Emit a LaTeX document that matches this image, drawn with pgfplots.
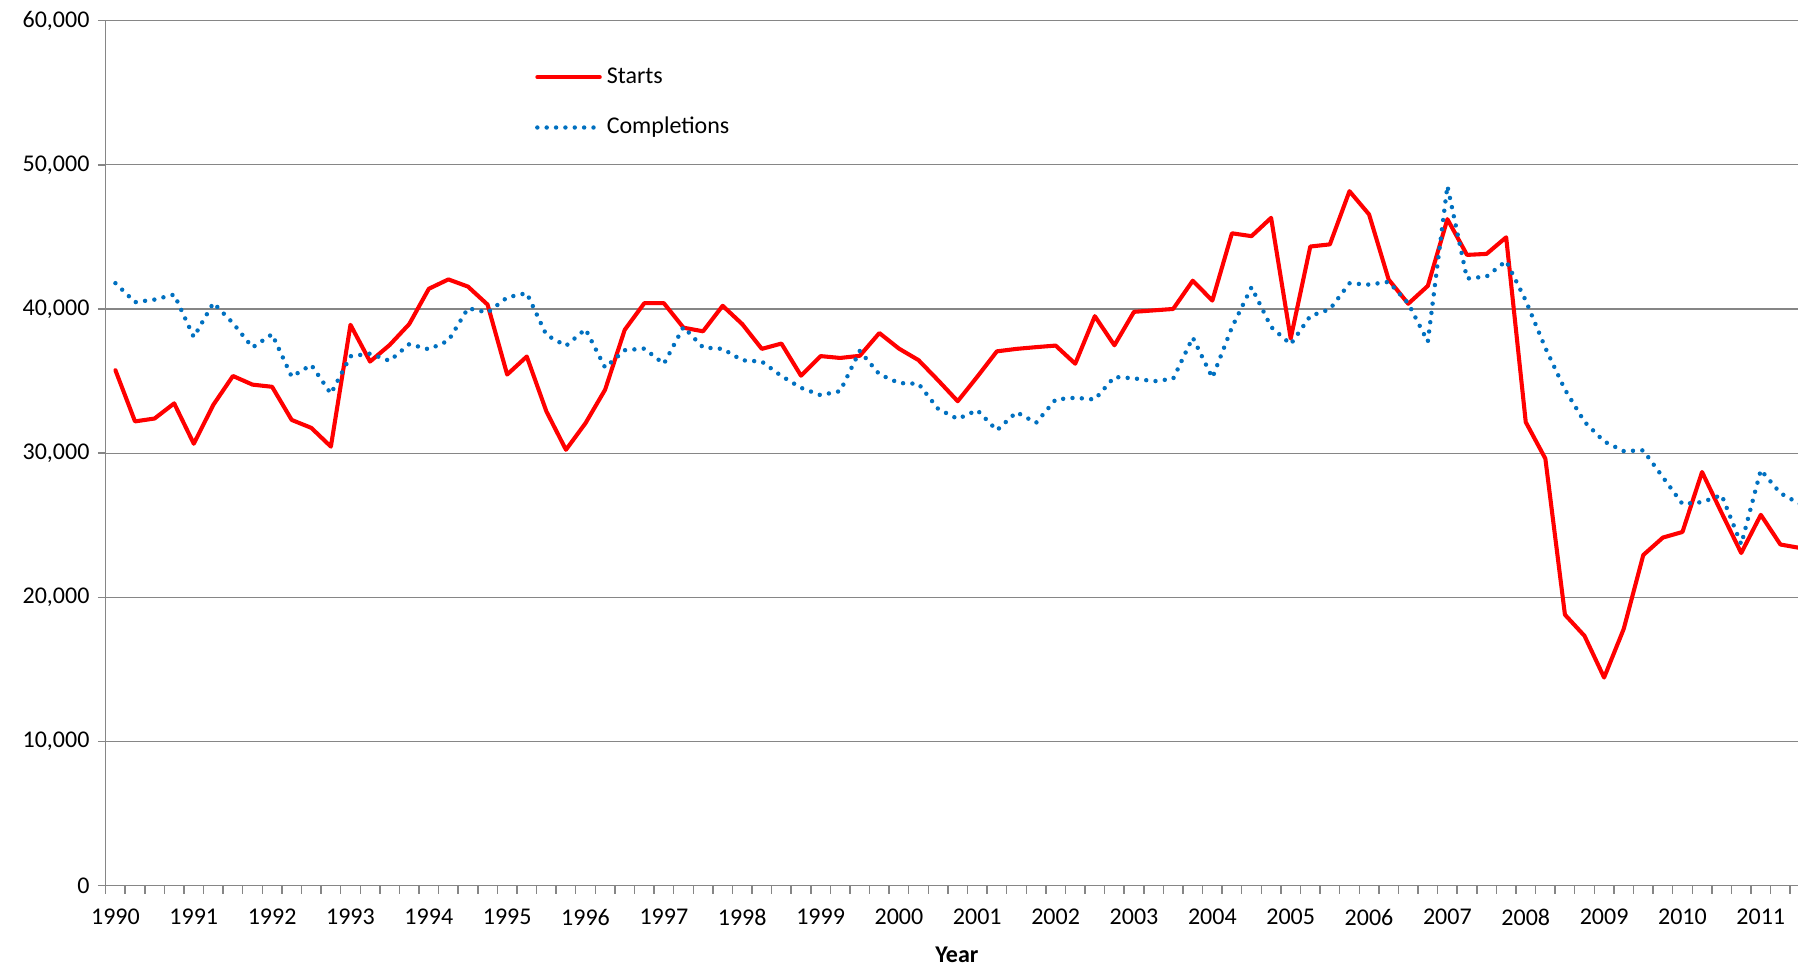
\documentclass[border=0pt]{standalone}
\usepackage{pgfplots}
\pgfplotsset{compat=1.18}
\usepackage{pgfplotstable}
\usepackage{fontspec}
\setmainfont{Carlito}
\definecolor{gridgray}{RGB}{134,134,134}
\definecolor{startred}{RGB}{255,0,0}
\definecolor{compblue}{RGB}{0,112,192}

\pgfplotstableread{
i starts completions
0 35750 41790
1 32200 40470
2 32400 40650
3 33450 41000
4 30650 38050
5 33350 40420
6 35350 39020
7 34750 37330
8 34600 38250
9 32300 35300
10 31750 36120
11 30450 34120
12 38900 36720
13 36350 36900
14 37500 36400
15 38950 37560
16 41400 37200
17 42050 37800
18 41550 40050
19 40300 39750
20 35450 40800
21 36700 41100
22 32900 38200
23 30230 37440
24 32080 38600
25 34400 35930
26 38550 37140
27 40400 37250
28 40400 36190
29 38700 38750
30 38450 37330
31 40220 37230
32 38950 36440
33 37230 36350
34 37600 35350
35 35370 34530
36 36730 34020
37 36600 34300
38 36750 37090
39 38330 35470
40 37250 34860
41 36450 34810
42 35050 33070
43 33600 32370
44 35300 32980
45 37060 31580
46 37230 32840
47 37350 32100
48 37460 33720
49 36200 33840
50 39500 33720
51 37480 35280
52 39800 35190
53 39900 34980
54 40000 35160
55 41960 38020
56 40580 35230
57 45250 38720
58 45050 41510
59 46320 38750
60 37950 37550
61 44330 39510
62 44480 39980
63 48170 41780
64 46560 41690
65 42040 41880
66 40360 40390
67 41600 37730
68 46230 48540
69 43750 42110
70 43820 42250
71 44970 43330
72 32150 40580
73 29620 37300
74 18790 34410
75 17320 32170
76 14430 30810
77 17800 30140
78 22930 30190
79 24140 28330
80 24530 26470
81 28690 26600
82 25850 27090
83 23070 23670
84 25720 28830
85 23660 27220
86 23420 26470
}\datatable

\begin{document}
\begin{tikzpicture}
\begin{axis}[
  scale only axis,
  width=705pt, height=360.3pt,
  xmin=-0.5, xmax=85.9,
  ymin=0, ymax=60000,
  axis x line=bottom, axis y line=left,
  axis line style={draw=gridgray, line width=0.6pt, -},
  ytick={0,10000,...,60000},
  ymajorgrids,
  grid style={draw=gridgray, line width=0.5pt},
  scaled y ticks=false,
  /pgf/number format/.cd, 1000 sep={,}, assume math mode=true,
  /pgfplots/.cd,
  xtick={0,4,...,84},
  xticklabels={1990,1991,1992,1993,1994,1995,1996,1997,1998,1999,2000,2001,2002,2003,2004,2005,2006,2007,2008,2009,2010,2011},
  minor xtick={-0.5,0.5,...,85.5},
  tick align=outside,
  major tick length=3.2pt,
  minor tick length=3.5pt,
  major x tick style={draw=none},
  minor x tick style={draw=gridgray, line width=0.6pt},
  major y tick style={draw=gridgray, line width=0.6pt},
  tick label style={font=\fontsize{10}{12}\selectfont, text=black},
  xticklabel style={yshift=-3pt},
  xlabel={\textbf{Year}},
  xlabel style={font=\fontsize{10}{12}\selectfont, at={(axis description cs:0.503,0)}, anchor=center, yshift=-28.7pt},
  legend style={at={(axis description cs:0.2535,0.9056)}, anchor=west, draw=none, fill=none,
    inner sep=0pt, row sep=12pt, column sep=2pt, font=\fontsize{10}{12}\selectfont,
    nodes={inner sep=0pt, text height=7pt, text depth=2pt, anchor=west}},
  legend cell align=left,
  legend image code/.code={\draw[#1] (0pt,0pt) -- (26pt,0pt);},
]
\addplot[startred, line width=1.7pt, line join=round, line cap=round] table[x=i, y=starts] {\datatable};
\addlegendentry{Starts}
\addplot[compblue, line width=1.85pt, line cap=round, line join=round, dash pattern=on 0pt off 3.9pt] table[x=i, y=completions] {\datatable};
\addlegendentry{Completions}
\end{axis}
\pgfresetboundingbox
\path[use as bounding box] (-44pt,-33.5pt) rectangle (705pt,368.9pt);
\end{tikzpicture}
\end{document}
